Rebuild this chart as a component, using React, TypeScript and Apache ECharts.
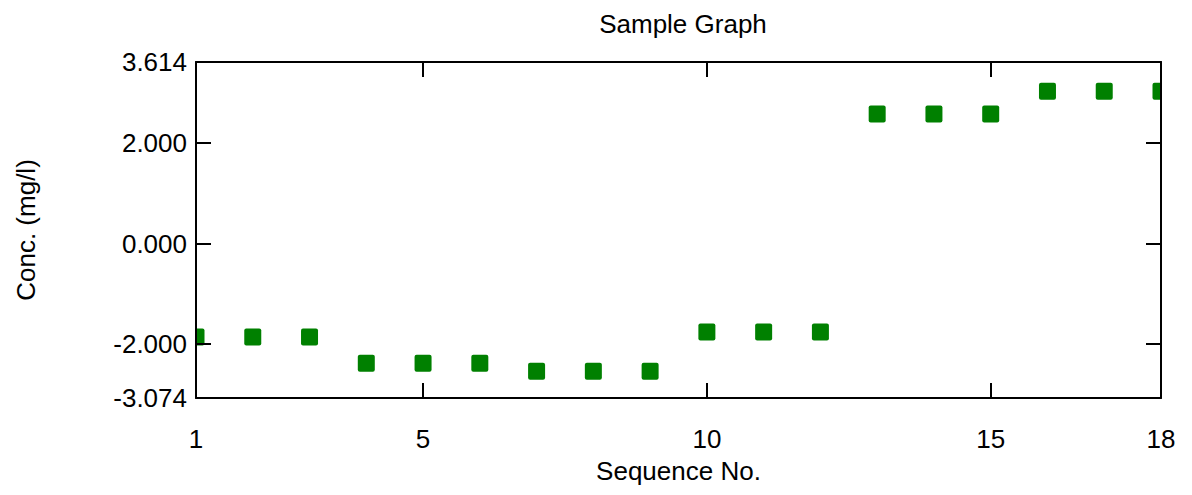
import React, { useEffect, useRef } from "react";
import * as echarts from "echarts";

const sequence = [1, 2, 3, 4, 5, 6, 7, 8, 9, 10, 11, 12, 13, 14, 15, 16, 17, 18];
const conc = [-1.86, -1.86, -1.86, -2.38, -2.38, -2.38, -2.54, -2.54, -2.54, -1.76, -1.76, -1.76, 2.58, 2.58, 2.58, 3.03, 3.03, 3.03];
const yMin = -3.074;
const yMax = 3.614;
const yLabelValues = [-3.074, -2, 0, 2, 3.614];
const yTickValues = [-2, 0, 2];
const xMin = 1;
const xMax = 18;
const xLabelValues = [1, 5, 10, 15, 18];
const xTickValues = [5, 10, 15];

const FONT = "'Liberation Sans', Arial, sans-serif";

export default function App() {
  const ref = useRef<HTMLDivElement>(null);
  useEffect(() => {
    if (!ref.current) return;
    const chart = echarts.init(ref.current, undefined, { renderer: "svg" });
    const axisLine = { show: true, onZero: false, lineStyle: { color: "#000", width: 2 } };
    const mkTick = (vals: number[]) => ({
      show: true,
      inside: true,
      length: 15,
      customValues: vals,
      lineStyle: { color: "#000", width: 2 },
    });
    chart.setOption({
      animation: false,
      backgroundColor: "#fff",
      title: {
        text: "Sample Graph",
        left: 678,
        textAlign: "center",
        top: 6,
        textStyle: { fontFamily: FONT, fontSize: 26, fontWeight: "normal", color: "#000" },
      },
      grid: { left: 196, right: 31, top: 62, bottom: 97 },
      xAxis: [
        {
          type: "value",
          min: xMin,
          max: xMax,
          position: "bottom",
          z: 5,
          name: "Sequence No.",
          nameLocation: "middle",
          nameGap: 60,
          nameTextStyle: { fontFamily: FONT, fontSize: 26, color: "#000" },
          axisLine,
          axisTick: mkTick(xTickValues),
          splitLine: { show: false },
          axisLabel: {
            fontFamily: FONT,
            fontSize: 26,
            color: "#000",
            margin: 28,
            customValues: xLabelValues,
            showMinLabel: true,
            showMaxLabel: true,
          },
        },
        {
          type: "value",
          min: xMin,
          max: xMax,
          position: "top",
          z: 5,
          axisLine,
          axisTick: mkTick(xTickValues),
          splitLine: { show: false },
          axisLabel: { show: false },
        },
      ],
      yAxis: [
        {
          type: "value",
          min: yMin,
          max: yMax,
          position: "left",
          z: 5,
          name: "Conc. (mg/l)",
          nameLocation: "middle",
          nameGap: 157,
          nameTextStyle: { fontFamily: FONT, fontSize: 26, color: "#000" },
          axisLine,
          axisTick: mkTick(yTickValues),
          splitLine: { show: false },
          axisLabel: {
            fontFamily: FONT,
            fontSize: 26,
            color: "#000",
            margin: 9,
            customValues: yLabelValues,
            showMinLabel: true,
            showMaxLabel: true,
            formatter: (v: number) => v.toFixed(3),
          },
        },
        {
          type: "value",
          min: yMin,
          max: yMax,
          position: "right",
          z: 5,
          axisLine,
          axisTick: mkTick(yTickValues),
          splitLine: { show: false },
          axisLabel: { show: false },
        },
      ],
      graphic: [
        { type: "rect", z: 3, shape: { x: 176, y: 318, width: 20, height: 38 }, style: { fill: "#fff" } },
        { type: "rect", z: 3, shape: { x: 1161, y: 72, width: 14, height: 38 }, style: { fill: "#fff" } },
      ],
      series: [
        {
          type: "scatter",
          data: sequence.map((s, i) => [s, conc[i]]),
          symbol: "path://M2,0H15Q17,0 17,2V15Q17,17 15,17H2Q0,17 0,15V2Q0,0 2,0Z",
          symbolSize: 17,
          itemStyle: { color: "#008000", opacity: 1 },
          clip: true,
          z: 1,
        },
      ],
    });
    return () => chart.dispose();
  }, []);
  return <div ref={ref} style={{ width: 1192, height: 495, position: "absolute", left: 0, top: 0 }} />;
}
